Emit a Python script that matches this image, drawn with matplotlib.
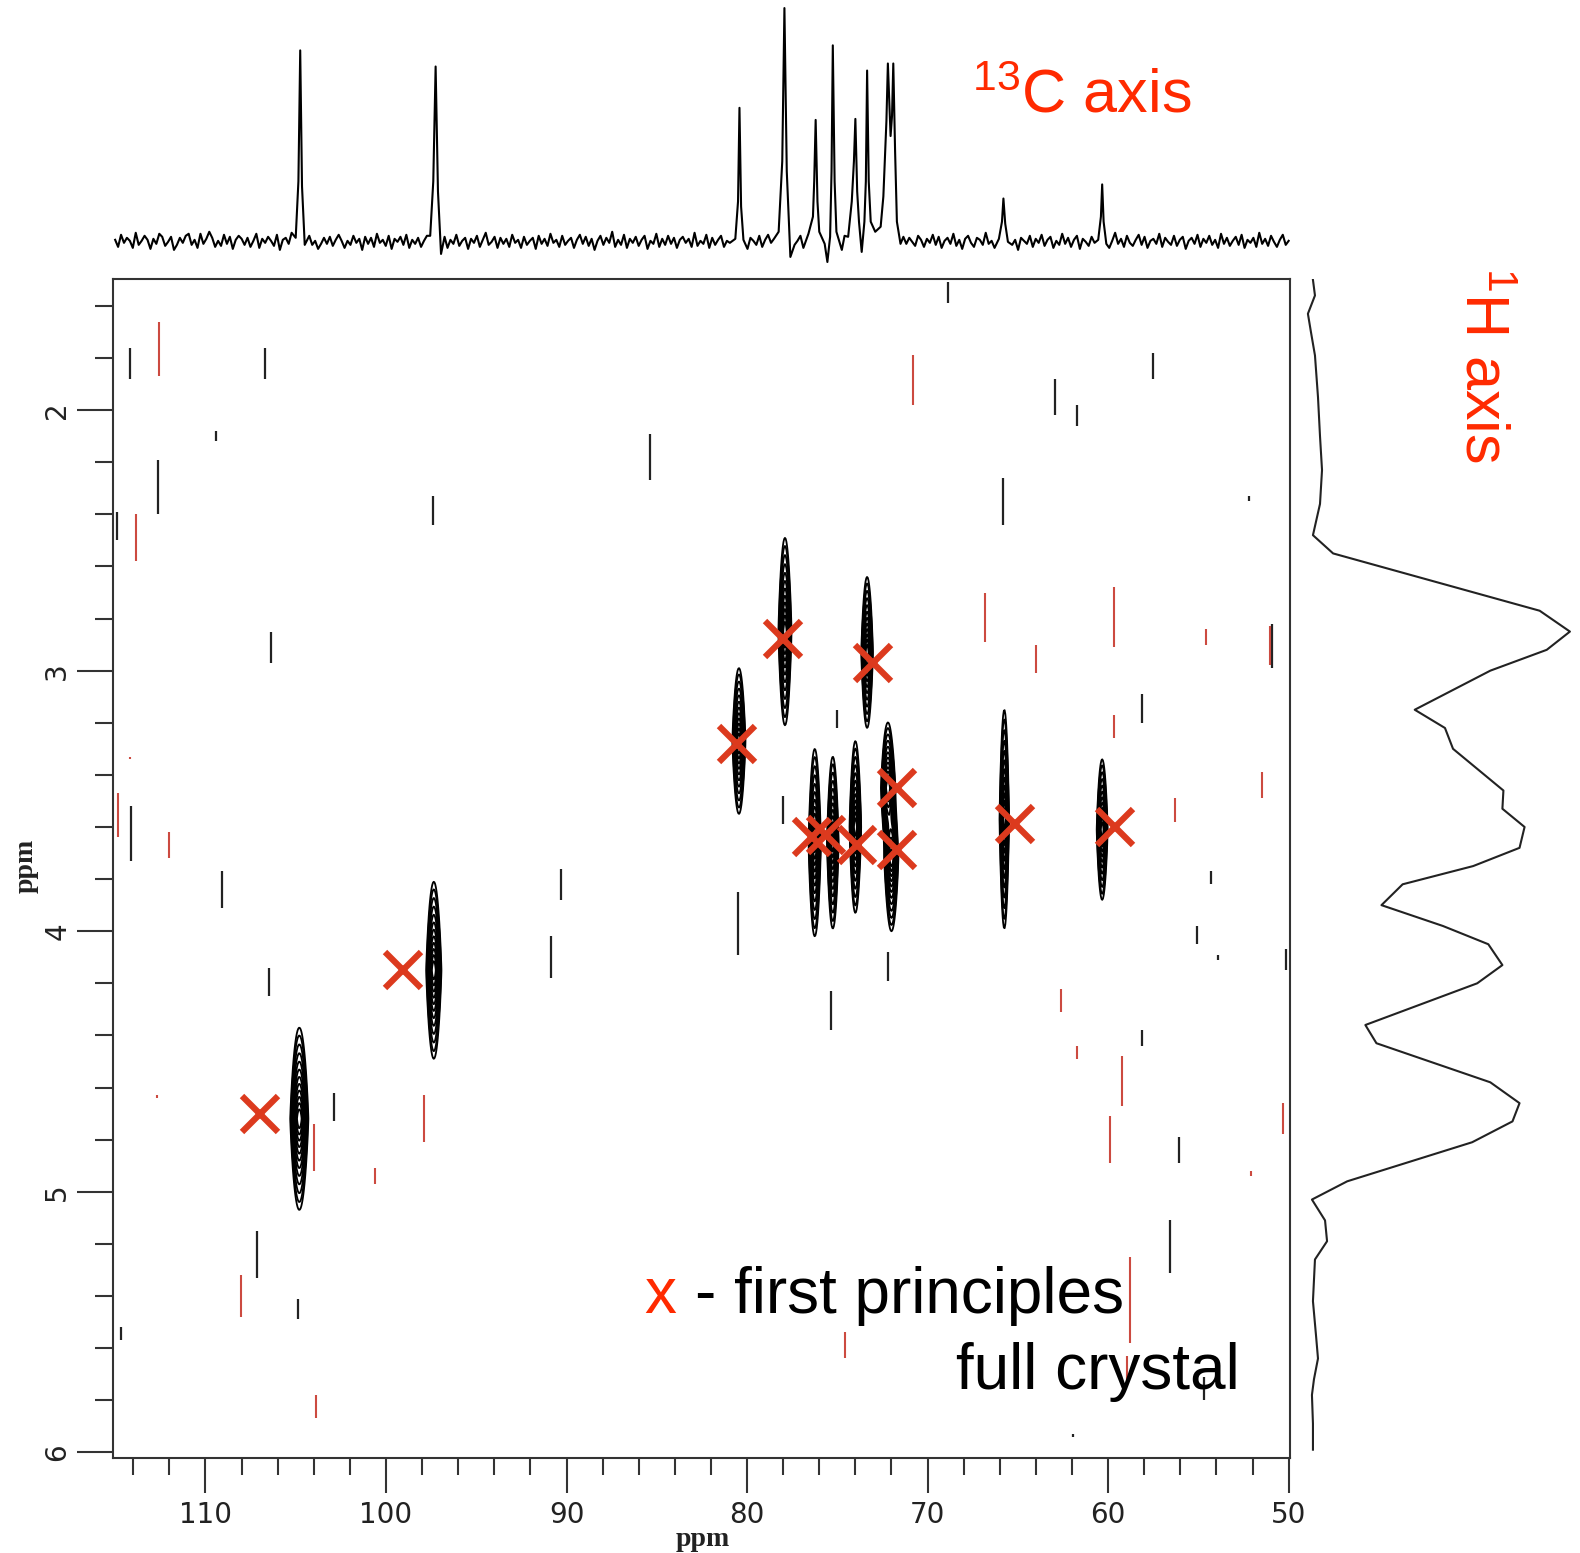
import numpy as np
import matplotlib
matplotlib.use("Agg")
import matplotlib.pyplot as plt
from matplotlib.ticker import MultipleLocator

plt.rcParams['font.family'] = ['Liberation Sans', 'DejaVu Sans']

# ---- 13C projection (top trace): peak vertices + baseline noise ----
c13_peak_ppm = [105.0, 104.85, 104.75, 104.65, 104.5, 97.55, 97.38, 97.25, 97.12, 96.95,
                80.65, 80.5, 80.42, 80.33, 80.2,
                78.25, 78.05, 77.93, 77.8, 77.6, 76.6, 76.35, 76.28, 76.2, 76.1, 76.0,
                75.7, 75.55, 75.4, 75.32, 75.25, 75.15, 75.05, 74.75, 74.4, 74.2, 74.08,
                74.0, 73.9, 73.8, 73.65, 73.5, 73.42, 73.35, 73.26, 73.15, 72.9, 72.6,
                72.45, 72.28, 72.2, 72.05, 71.97, 71.9, 71.8, 71.7, 71.5,
                66.05, 65.88, 65.8, 65.7, 65.55, 60.55, 60.4, 60.33, 60.25, 60.1]
c13_peak_int = [4, 60, 190, 55, -3, 6, 60, 174, 50, -12,
                3, 40, 133, 35, 2,
                10, 80, 232, 70, -15, 8, 25, 60, 121, 40, 10,
                -2, -20, 5, 70, 195, 60, 10, -8, 5, 40, 80,
                122, 50, 20, -10, 20, 60, 170, 60, 20, 10, 15,
                45, 120, 177, 105, 125, 177, 90, 20, -2,
                3, 20, 43, 18, 0, 2, 25, 57, 20, -2]
c13_noise = [
    2, -5, 7, -1, 4, 1, -6, 9, -3, 1, 6, 2, -7, 3, -2, 8, 5, -4, 0, 5,
    -8, -3, 4, -1, 6, 8, -3, 2, -6, 8, -2, 3, 10, 4, -5, 1, -4, 7, -2, 5,
    -7, 2, 6, 3, -3, 4, -5, 1, 8, -6, 3, -1, 5, 1, -4, 7, -8, 2, 4, -2,
    9, 3, -5, 0, 3, -6, 6, -3, 1, -7, -2, 4, -2, 5, -4, 2, 7, 1, -6, 1,
    -3, 6, -1, 3, -8, 5, -2, 4, -5, 8, -1, 2, -4, 6, -7, 3, 0, 5, -3, 7,
    -6, 2, -2, 4, -5, 1, 6, -4, 3, -1, 8, -3, 5, -6, 2, -2, 7, -4, 1, 4,
    -7, 3, -1, 6, -5, 2, 9, -3, 0, 5, -6, 4, -2, 3, -5, 7, -1, 2, -6, 5,
    -3, 1, 4, -7, 6, -2, 3, -4, 8, -1, 2, -5, 6, -3, 1, 4, -6, 2, 7, -2,
    5, -4, 3, -8, 1, 6, -3, 4, -1, 10, -5, 2, -3, 7, -6, 3, -1, 5, -4, 2,
    6, -7, 1, -2, 8, -5, 3, -3, 6, -2, 4, -6, 2, 5, -1, 3, -5, 9, -4, 1,
    -2, 7, -6, 4, -3, 2, 6, -5, 1, -1, 5, -4, 8, -2, 3, -7, 4, 1, -3, 6,
    -5, 2, 7, -1, 3, -6, 5, -2, 4, -4, 9, -3, 1, 6, -6, 2, -2, 5, -5, 8,
    -1, 3, -4, 7, -2, 4, -7, 1, 6, -3, 2, -5, 7, -1, 4, -6, 3, 9, -4, 2,
    -2, 6, -5, 3, 1, -6, 8, -3, 5, -2, 4, 0, -4, 6, 2, -5, 3, -1, 7, -3,
    5, -6, 1, 4, -2, 8, -4, 2, -7, 3, 6, -1, -5, 4, 2, -3, 9, -2, 1, -6,
    3, 7, -4, 0, 5, -3, 2, -8, 4, 1, -2, 6, -5, 3, -1, 7, -4, 2, 5, -6,
    1, -3, 8, -2, 4, -5, 2, 6, -7, 3, 0, -4, 5, -1, 7, -3, 2, 4, -6, 1,
    9, -2, 3, -5, 6, -1, -4, 2, 7, -3, 5, -6, 1, 3, -2, 8, -5, 4, 0, -3,
    6, -4, 2, 5, -7, 1, 4, -2, 7, -5, 3, -1, 6, -3, 2, -6, 8, -2, 4, -4,
    1, 5, -3, 7, -6, 2, -1, 4, -5, 9, -2, 3, -4, 6, 0, -5, 2, 7, -3, 1,
]

# ---- 1H projection (right trace) ----
h1_proj_ppm = [1.50, 1.56, 1.63, 1.70, 1.79, 1.95, 2.10, 2.23, 2.36, 2.48, 2.55, 2.77,
               2.85, 2.92, 3.00, 3.15, 3.22, 3.30, 3.46, 3.53, 3.60, 3.68, 3.75, 3.82,
               3.90, 3.98, 4.05, 4.13, 4.20, 4.36, 4.43, 4.58, 4.66, 4.73, 4.81, 4.96,
               5.03, 5.11, 5.19, 5.26, 5.42, 5.55, 5.64, 5.72, 5.78, 5.89, 5.99]
h1_proj_int = [3, 5, -2, 1, 5, 8, 10, 12, 10, 3, 23, 228,
               258, 235, 179, 104, 134, 142, 192, 191, 213, 208, 162, 92,
               71, 132, 177, 191, 166, 55, 66, 179, 208, 201, 161, 37,
               2, 15, 17, 5, 3, 6, 8, 4, 2, 3, 3]

# ---- experimental cross peaks (13C ppm, 1H ppm, 1H half span, 13C half span) ----
xpk_c13 = [104.8, 97.35, 80.45, 77.9, 76.25, 75.25, 74.0, 73.35, 72.2, 72.0, 65.75, 60.33]
xpk_h1 = [4.72, 4.15, 3.27, 2.85, 3.66, 3.66, 3.60, 2.93, 3.45, 3.72, 3.57, 3.61]
xpk_h1_span = [0.35, 0.34, 0.28, 0.36, 0.36, 0.33, 0.33, 0.29, 0.25, 0.28, 0.42, 0.27]
xpk_c13_span = [0.50, 0.42, 0.36, 0.36, 0.34, 0.32, 0.32, 0.32, 0.38, 0.38, 0.26, 0.30]

# ---- first principles (full crystal) predictions ----
calc_c13 = [107.0, 99.05, 80.56, 78.0, 73.0, 71.7, 76.4, 75.6, 73.9, 71.7, 65.14, 59.6]
calc_h1 = [4.70, 4.15, 3.28, 2.88, 2.97, 3.45, 3.64, 3.63, 3.67, 3.69, 3.59, 3.60]

# ---- noise streaks in the 2D map ----
blk_c13 = [114.2, 106.7, 109.4, 112.6, 114.9, 97.4, 85.4, 68.87, 57.5, 62.95, 61.7,
           65.85, 52.2, 106.37, 58.15, 50.95, 75.0, 78.0, 114.1, 109.1, 90.3, 80.5,
           90.85, 106.5, 55.1, 54.3, 50.17, 72.2, 75.35, 58.1, 102.9, 56.1, 56.6,
           107.15, 104.9, 114.7, 54.7, 53.9, 61.95]
blk_top = [1.76, 1.76, 2.08, 2.19, 2.39, 2.33, 2.09, 1.51, 1.78, 1.88, 1.98, 2.26,
           2.33, 2.85, 3.09, 2.82, 3.15, 3.48, 3.52, 3.77, 3.76, 3.85, 4.02, 4.14,
           3.98, 3.77, 4.07, 4.08, 4.23, 4.38, 4.62, 4.79, 5.11, 5.15, 5.41, 5.52,
           5.71, 4.09, 5.93]
blk_bot = [1.88, 1.88, 2.12, 2.40, 2.50, 2.44, 2.27, 1.59, 1.88, 2.02, 2.06, 2.44,
           2.35, 2.97, 3.20, 2.99, 3.22, 3.59, 3.73, 3.91, 3.88, 4.09, 4.18, 4.25,
           4.05, 3.82, 4.15, 4.19, 4.38, 4.44, 4.73, 4.89, 5.31, 5.33, 5.49, 5.57,
           5.80, 4.11, 5.94]
red_c13 = [112.57, 113.85, 70.8, 66.8, 59.65, 64.0, 54.6, 51.05, 59.7, 51.45, 56.3,
           114.86, 112.0, 62.6, 61.7, 59.25, 59.9, 50.3, 52.1, 97.9, 104.0, 100.6,
           108.05, 74.6, 103.85, 58.8, 58.95, 112.7, 114.2]
red_top = [1.66, 2.40, 1.79, 2.70, 2.68, 2.90, 2.84, 2.83, 3.17, 3.39, 3.49, 3.47,
           3.62, 4.22, 4.44, 4.48, 4.71, 4.66, 4.92, 4.63, 4.74, 4.91, 5.32, 5.54,
           5.78, 5.25, 5.63, 4.63, 3.33]
red_bot = [1.87, 2.58, 1.98, 2.89, 2.91, 3.01, 2.90, 2.98, 3.26, 3.49, 3.58, 3.64,
           3.72, 4.31, 4.49, 4.67, 4.89, 4.78, 4.94, 4.81, 4.92, 4.97, 5.48, 5.64,
           5.87, 5.58, 5.74, 4.64, 3.34]

C13_LIM = (115.13, 49.94)
H1_LIM = (6.023, 1.497)

fig = plt.figure(figsize=(15.8, 15.53), dpi=100)
ax = fig.add_axes([0.0714, 0.0610, 0.7449, 0.7593])
ax_top = fig.add_axes([0.0714, 0.830, 0.7449, 0.170])
ax_right = fig.add_axes([0.8195, 0.0610, 0.1805, 0.7593])

# ===== 2D map =====
gx = np.linspace(115.3, 49.8, 1600)
gy = np.linspace(1.45, 6.05, 1300)
GX, GY = np.meshgrid(gx, gy)
Z = np.zeros_like(GX)
for c, h, sh, sc in zip(xpk_c13, xpk_h1, xpk_h1_span, xpk_c13_span):
    sx = sc / 1.68
    sy = sh / 2.37
    Z += np.exp(-((GX - c) / sx) ** 2 - (np.abs(GY - h) / sy) ** 1.2)
ax.contour(GX, GY, Z,
           levels=[0.06, 0.08, 0.11, 0.15, 0.2, 0.26, 0.33, 0.41, 0.5, 0.6, 0.71, 0.83],
           colors='black', linewidths=1.3, zorder=3)

ax.vlines(blk_c13, blk_top, blk_bot, colors='#222222', linewidth=1.6, zorder=2)
ax.vlines(red_c13, red_top, red_bot, colors='#cc4a40', linewidth=1.5, zorder=2)

ax.plot(calc_c13, calc_h1, linestyle='none', marker='x', color='#dc3a1e',
        markersize=26, markeredgewidth=4.5, zorder=6)

ax.set_xlim(*C13_LIM)
ax.set_ylim(*H1_LIM)
ax.xaxis.set_major_locator(MultipleLocator(10))
ax.xaxis.set_minor_locator(MultipleLocator(2))
ax.yaxis.set_major_locator(MultipleLocator(1))
ax.yaxis.set_minor_locator(MultipleLocator(0.2))
ax.tick_params(axis='both', which='both', direction='out', colors='#333333', width=1.5)
ax.tick_params(axis='x', which='major', length=25, labelsize=20, pad=6)
ax.tick_params(axis='x', which='minor', length=12)
ax.tick_params(axis='y', which='major', length=26, labelsize=20, pad=4, labelrotation=90)
ax.tick_params(axis='y', which='minor', length=13)
for lbl in ax.get_xticklabels() + ax.get_yticklabels():
    lbl.set_fontfamily('DejaVu Sans')
    lbl.set_color('#222222')
for lbl in ax.get_yticklabels():
    lbl.set_verticalalignment('center')
for s in ax.spines.values():
    s.set_color('#333333')
    s.set_linewidth(1.5)

ax.set_xlabel('ppm', fontsize=20, fontfamily='Liberation Serif', fontweight='bold', color='#222222')
ax.xaxis.set_label_coords(0.501, -0.058)
ax.set_ylabel('ppm', fontsize=20, fontfamily='Liberation Serif', fontweight='bold', color='#222222')
ax.yaxis.set_label_coords(-0.063, 0.502)

# ===== 13C trace on top =====
pk_ppm = np.array(c13_peak_ppm)
pk_int = np.array(c13_peak_int, dtype=float)
nz_ppm = np.linspace(115.0, 50.0, len(c13_noise))
nz_int = np.array(c13_noise, dtype=float)
keep = np.min(np.abs(nz_ppm[:, None] - pk_ppm[None, :]), axis=1) > 0.15
all_ppm = np.concatenate([nz_ppm[keep], pk_ppm])
all_int = np.concatenate([nz_int[keep], pk_int])
order = np.argsort(-all_ppm)
ax_top.plot(all_ppm[order], all_int[order], color='black', linewidth=1.5)
ax_top.set_xlim(*C13_LIM)
ax_top.set_ylim(-22, 240)
ax_top.axis('off')

# ===== 1H trace on right =====
ax_right.plot(h1_proj_int, h1_proj_ppm, color='#222222', linewidth=1.5)
ax_right.set_ylim(*H1_LIM)
ax_right.set_xlim(-15, 268)
ax_right.axis('off')

# ===== annotations =====
red_txt = '#ff2a00'
fig.text(0.6154, 0.9273, r'$\mathregular{^{13}}$C axis', fontsize=44, color=red_txt,
         ha='left', va='baseline')
fig.text(0.9375, 0.828, r'$\mathregular{^{1}}$H axis', fontsize=44, color=red_txt,
         ha='center', va='top', rotation=270)
fig.text(0.408, 0.1544, 'x', fontsize=46, color=red_txt, ha='left', va='baseline', zorder=10)
fig.text(0.440, 0.1544, '- first principles', fontsize=46, color='black',
         ha='left', va='baseline', zorder=10)
fig.text(0.7844, 0.1058, 'full crystal', fontsize=46, color='black',
         ha='right', va='baseline', zorder=10)

fig.savefig('out.png', dpi=100)
